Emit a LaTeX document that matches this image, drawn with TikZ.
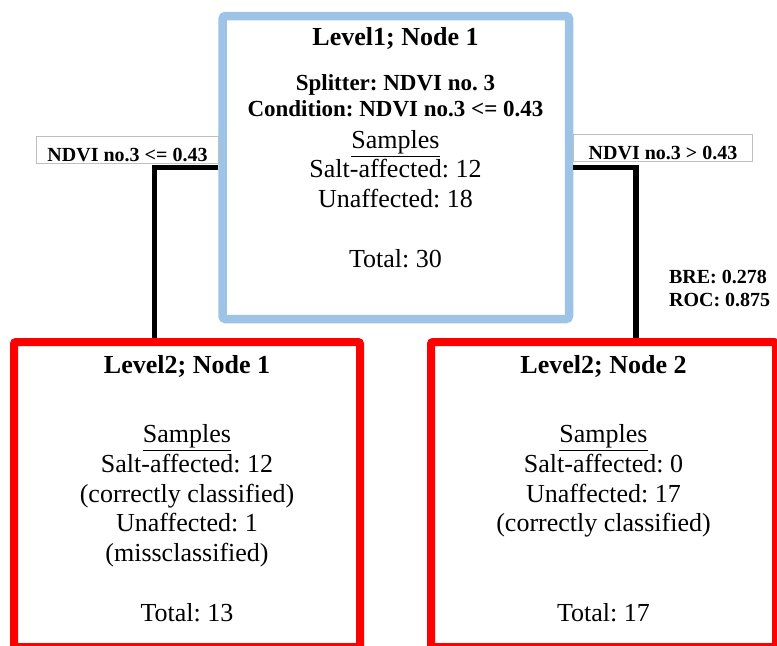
\documentclass[tikz,border=0pt]{standalone}
\usepackage{fontspec}
\setmainfont{Liberation Serif}
\usetikzlibrary{calc}
\frenchspacing

\definecolor{boxblue}{HTML}{9DC3E6}
\definecolor{lblgray}{HTML}{BFBFBF}

\tikzset{
  level1/.style={draw=boxblue, line width=4.25pt, rounded corners=1.5pt, inner sep=0pt},
  level2/.style={draw=red, line width=4pt, rounded corners=1pt, inner sep=0pt},
  branch/.style={line width=2.75pt, black},
  cond/.style={draw=lblgray, line width=0.5pt, inner sep=0pt,
    font=\bfseries\fontsize{10}{12}\selectfont,
    text height=11pt, text depth=0pt, minimum height=13.5pt},
  head/.style={anchor=base, font=\bfseries\fontsize{13}{14.875}\selectfont},
  body/.style={align=center, anchor=base, font=\fontsize{13}{14.875}\selectfont},
}

\begin{document}
\begin{tikzpicture}[x=0.5pt, y=-0.5pt]
    \clip (0,0) rectangle (777,645);

    % boxes
    \node [level1, minimum width=173.25pt, minimum height=151.5pt] (l1n1) at (395.75,167.5) {};
    \node [level2, minimum width=173pt, minimum height=152.5pt] (l2n1) at (187,494.5) {};
    \node [level2, minimum width=172.5pt, minimum height=152.5pt] (l2n2) at (603.5,494.5) {};

    % branches
    \draw [branch] (l1n1.west) -| ($(l2n1.north)+(-32.5,0)$);
    \draw [branch] (l1n1.east) -| ($(l2n2.north)+(32.5,0)$);

    \node [cond, anchor=south west, minimum width=91pt] (lblL) at (36,164) {NDVI no.3 <= 0.43};
    \node [cond, anchor=south west, minimum width=89.5pt] (lblR) at (573,162) {NDVI no.3 > 0.43};

    \node [anchor=base west, align=left, font=\bfseries\fontsize{10}{11.5}\selectfont]
      (perf) at (662,306) {BRE: 0.278\\ROC: 0.875};

    % level 1 (base = last line)
    \node [head] (h11) at (395.5,45) {Level1; Node 1};
    \node [body, font=\bfseries\fontsize{11.5}{13}\selectfont] (split) at (395.5,116.5)
      {Splitter: NDVI no. 3\\Condition: NDVI no.3 <= 0.43};
    \node [body] (s11) at (395.5,267)
      {\underline{Samples}\\Salt-affected: 12\\Unaffected: 18\\[14.875pt]Total: 30};

    % level 2
    \node [head] (h21) at (187,373) {Level2; Node 1};
    \node [body] (s21) at (187,621)
      {\underline{Samples}\\Salt-affected: 12\\(correctly classified)\\Unaffected: 1\\(missclassified)\\[14.875pt]Total: 13};

    \node [head] (h22) at (603.5,373) {Level2; Node 2};
    \node [body] (s22) at (603.5,621)
      {\underline{Samples}\\Salt-affected: 0\\Unaffected: 17\\(correctly classified)\\[29.75pt]Total: 17};
\end{tikzpicture}
\end{document}
